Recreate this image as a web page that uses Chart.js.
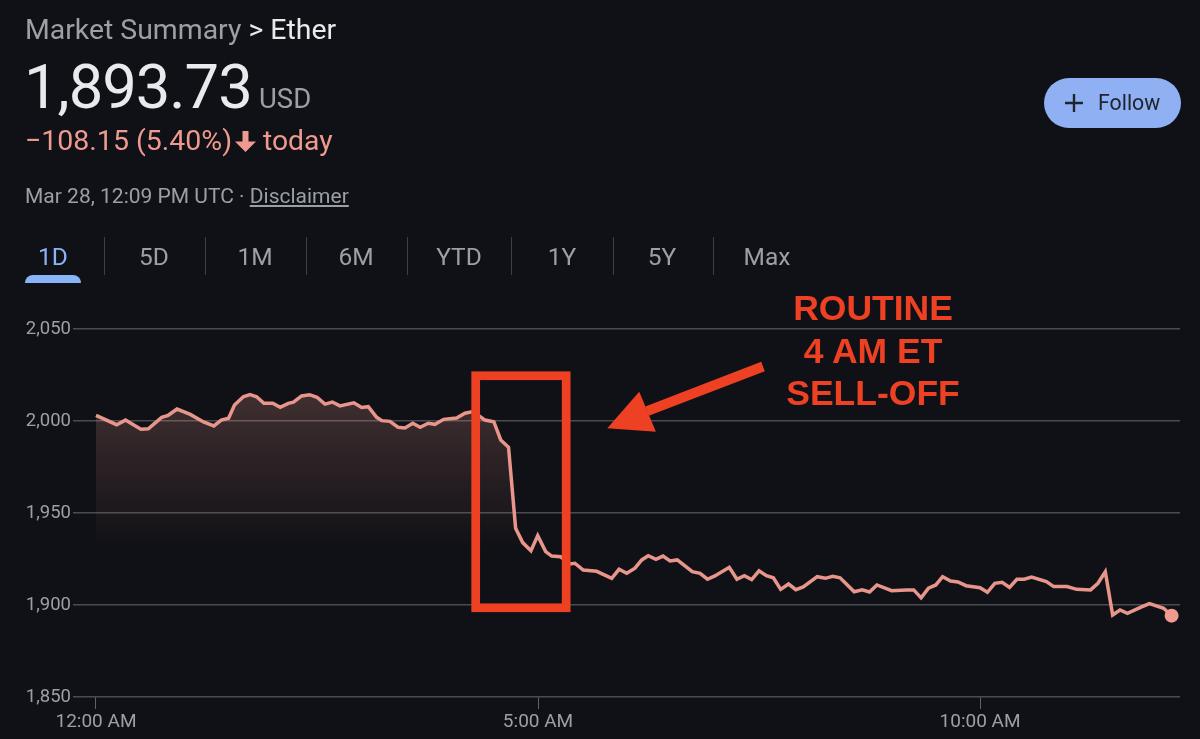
<!DOCTYPE html>
<html>
<head>
<meta charset="utf-8">
<title>Ether</title>
<script src="https://cdn.jsdelivr.net/npm/chart.js@4"></script>
<style>
  html, body { margin: 0; padding: 0; background: #101116; }
  body { width: 1200px; height: 739px; position: relative; overflow: hidden; font-family: Roboto, sans-serif; }
  canvas { position: absolute; left: 0; top: 0; }
  .t { position: absolute; white-space: nowrap; line-height: 1; }
  .grey { color: #9aa0a6; }
  .white { color: #e8eaed; }
  .red { color: #ee9a8f; }
  .tab { position: absolute; top: 245px; width: 80px; text-align: center; font-size: 24.5px; line-height: 24px; color: #9aa0a6; }
  .sep { position: absolute; top: 237px; width: 1px; height: 38px; background: #3c4043; }
  #follow { position: absolute; left: 1044px; top: 78px; width: 137px; height: 50px; border-radius: 25px; background: #8fb1f4; color: #20242c; font-size: 21.3px; line-height: 50px; }
  #note { position: absolute; left: 723px; top: 287px; width: 300px; text-align: center; color: #ee4022; font: bold 35.5px/42.5px "Liberation Sans", Arial, sans-serif; }
</style>
</head>
<body>
<canvas id="chart1" width="1200" height="739"></canvas>

<div class="t grey" style="left:25px;top:16px;font-size:28.4px">Market Summary <span class="white">&gt; Ether</span></div>
<div class="t white" style="left:24px;top:57px;font-size:61.5px;letter-spacing:-1px">1,893.73</div>
<div class="t grey" style="left:259px;top:85px;font-size:27.5px">USD</div>
<div class="t red" style="left:25px;top:127px;font-size:28.5px">−108.15 (5.40%)</div>
<svg style="position:absolute;left:234px;top:130px" width="24" height="24" viewBox="0 0 24 24"><path d="M8.5 1h6v10.5h7.5L11.5 22 1 11.5h7.5z" fill="#ee9a8f"/></svg>
<div class="t red" style="left:263px;top:127px;font-size:28.3px">today</div>
<div class="t grey" style="left:25px;top:186px;font-size:21px">Mar 28, 12:09 PM UTC · <u>Disclaimer</u></div>

<div class="tab" style="left:13px;color:#8ab4f8">1D</div>
<div class="sep" style="left:104px"></div>
<div class="tab" style="left:114px">5D</div>
<div class="sep" style="left:205px"></div>
<div class="tab" style="left:215px">1M</div>
<div class="sep" style="left:306px"></div>
<div class="tab" style="left:316px">6M</div>
<div class="sep" style="left:407px"></div>
<div class="tab" style="left:419px">YTD</div>
<div class="sep" style="left:511px"></div>
<div class="tab" style="left:522px">1Y</div>
<div class="sep" style="left:613px"></div>
<div class="tab" style="left:622px">5Y</div>
<div class="sep" style="left:713px"></div>
<div class="tab" style="left:727px">Max</div>
<div style="position:absolute;left:25px;top:275px;width:56px;height:8px;background:#8ab4f8;border-radius:8px 8px 0 0"></div>

<div id="follow">
  <svg style="position:absolute;left:19px;top:14px" width="22" height="22" viewBox="0 0 22 22"><path d="M11 2v18M2 11h18" stroke="#20242c" stroke-width="2.4"/></svg>
  <span style="position:absolute;left:54px">Follow</span>
</div>

<div id="note">ROUTINE<br>4 AM ET<br>SELL-OFF</div>

<script>
// minutes after midnight
const minutes = [0, 14, 20, 30.5, 35.5, 44.6, 49, 55, 64, 73, 80, 85, 90, 94, 100, 104.5, 109, 114, 120, 125, 130.5, 134, 139.6, 145, 150, 155.4, 160.4, 165.6, 175, 180.3, 184.8, 190.5, 194, 199.5, 205, 209.7, 215, 220, 225.5, 230, 236, 244.8, 250.4, 256, 264, 270, 274.7, 280, 284.8, 289.6, 295.2, 299.8, 305.2, 309.3, 315.4, 321.7, 325, 330.7, 339.8, 350, 355, 360.2, 365.8, 370.4, 374.8, 380, 384.8, 389.6, 394.5, 404.7, 410, 415, 420, 429.8, 435, 440, 445, 450, 455, 459.7, 464.7, 470, 475, 480, 489.5, 495, 500, 505, 514.6, 520, 525, 530, 540, 550, 555, 560, 565, 570, 574.6, 580, 585, 590.5, 600, 605, 610, 615, 620, 625, 630, 635, 645, 650, 659, 665.6, 675, 680, 685, 690, 695, 700, 710, 715, 724.6, 730];
const prices = [2003.1, 1998.0, 2000.5, 1995.5, 1995.8, 2002.0, 2003.1, 2006.5, 2003.6, 1999.5, 1997.3, 2000.5, 2001.5, 2008.7, 2013.2, 2014.3, 2013.2, 2009.6, 2009.6, 2007.4, 2009.6, 2010.2, 2013.6, 2014.3, 2012.9, 2009.2, 2010.3, 2008.2, 2009.9, 2007.4, 2007.8, 2002.0, 2000.2, 1999.8, 1996.6, 1996.2, 1998.8, 1996.6, 1998.8, 1998.2, 2000.9, 2001.6, 2004.2, 2005.1, 2000.5, 1999.6, 1989.7, 1985.7, 1941.7, 1933.9, 1929.5, 1937.7, 1929.0, 1926.6, 1926.2, 1922.3, 1922.7, 1919.0, 1918.3, 1914.5, 1919.4, 1917.2, 1920.0, 1924.5, 1926.8, 1924.8, 1926.6, 1923.9, 1924.5, 1918.1, 1917.2, 1914.0, 1915.8, 1920.5, 1914.0, 1915.9, 1913.8, 1918.6, 1915.9, 1914.8, 1908.5, 1911.4, 1908.3, 1909.8, 1915.4, 1914.5, 1915.6, 1914.8, 1907.2, 1908.2, 1907.1, 1910.9, 1907.8, 1908.2, 1908.2, 1903.9, 1909.2, 1910.9, 1915.4, 1913.0, 1912.5, 1910.5, 1909.4, 1906.9, 1911.8, 1912.3, 1909.6, 1914.0, 1914.0, 1915.2, 1912.7, 1910.0, 1910.0, 1908.5, 1908.2, 1911.8, 1918.1, 1894.6, 1897.3, 1895.5, 1899.1, 1900.8, 1898.2, 1894.2];
const xTickValues = [0, 300, 600];
const xTickLabels = ['12:00 AM', '5:00 AM', '10:00 AM'];
const yTickValues = [1850, 1900, 1950, 2000, 2050];

// annotation, in chart units (minutes, price)
const boxMinutes = [257.7, 319.1];
const boxPrices = [2024.6, 1898.5];
const arrowShaft = [[374, 2005.4], [452.7, 2029.6]];
const arrowHead = [[347, 1996.0], [368.7, 2015.9], [380, 1994.2]];

const annotation = {
  id: 'annotation',
  afterDatasetsDraw(chart) {
    const { ctx, scales: { x, y } } = chart;
    const px = p => [x.getPixelForValue(p[0]), y.getPixelForValue(p[1])];
    ctx.save();
    ctx.strokeStyle = '#ee4022';
    ctx.fillStyle = '#ee4022';
    ctx.lineWidth = 8.7;
    ctx.strokeRect(x.getPixelForValue(boxMinutes[0]), y.getPixelForValue(boxPrices[0]),
      x.getPixelForValue(boxMinutes[1]) - x.getPixelForValue(boxMinutes[0]),
      y.getPixelForValue(boxPrices[1]) - y.getPixelForValue(boxPrices[0]));
    ctx.lineWidth = 10;
    ctx.beginPath();
    ctx.moveTo(...px(arrowShaft[0]));
    ctx.lineTo(...px(arrowShaft[1]));
    ctx.stroke();
    ctx.beginPath();
    arrowHead.forEach((p, i) => i ? ctx.lineTo(...px(p)) : ctx.moveTo(...px(p)));
    ctx.closePath();
    ctx.fill();
    ctx.restore();
  }
};

function areaFill(context) {
  const { ctx, chartArea, scales } = context.chart;
  if (!chartArea) return 'transparent';
  const g = ctx.createLinearGradient(0, scales.y.getPixelForValue(2014), 0, scales.y.getPixelForValue(1930));
  g.addColorStop(0, 'rgba(238,154,143,0.22)');
  g.addColorStop(1, 'rgba(238,154,143,0)');
  return g;
}

const lastIndex = prices.length - 1;

new Chart(document.getElementById('chart1'), {
  type: 'line',
  data: {
    datasets: [{
      data: minutes.map((m, i) => ({ x: m, y: prices[i] })),
      borderColor: '#e8958b',
      borderWidth: 3.5,
      tension: 0,
      fill: 'start',
      backgroundColor: areaFill,
      pointRadius: c => c.dataIndex === lastIndex ? 7 : 0,
      pointBackgroundColor: '#ee9a8f',
      pointBorderWidth: 0
    }]
  },
  plugins: [annotation],
  options: {
    responsive: false,
    animation: false,
    layout: { padding: { top: 329, right: 20 } },
    plugins: { legend: { display: false }, tooltip: { enabled: false } },
    scales: {
      x: {
        type: 'linear',
        min: -15.6,
        max: 735.7,
        afterBuildTicks: s => { s.ticks = xTickValues.map(v => ({ value: v })); },
        afterFit: s => { s.height = 42; },
        grid: { drawOnChartArea: false, tickLength: 12, tickColor: '#5f6368', tickWidth: 1 },
        border: { display: false },
        ticks: {
          autoSkip: false, maxRotation: 0, padding: 2, color: '#9aa0a6',
          font: { family: 'Roboto', size: 19 },
          callback: v => xTickLabels[xTickValues.indexOf(v)]
        }
      },
      y: {
        min: 1850,
        max: 2050,
        afterBuildTicks: s => { s.ticks = yTickValues.map(v => ({ value: v })); },
        afterFit: s => { s.width = 73; },
        grid: { color: '#4a4b4f', lineWidth: 1.5, drawTicks: false },
        border: { display: false },
        ticks: {
          padding: 2, color: '#9aa0a6',
          font: { family: 'Roboto', size: 18.5 },
          callback: v => v.toLocaleString('en-US')
        }
      }
    }
  }
});
</script>
</body>
</html>
